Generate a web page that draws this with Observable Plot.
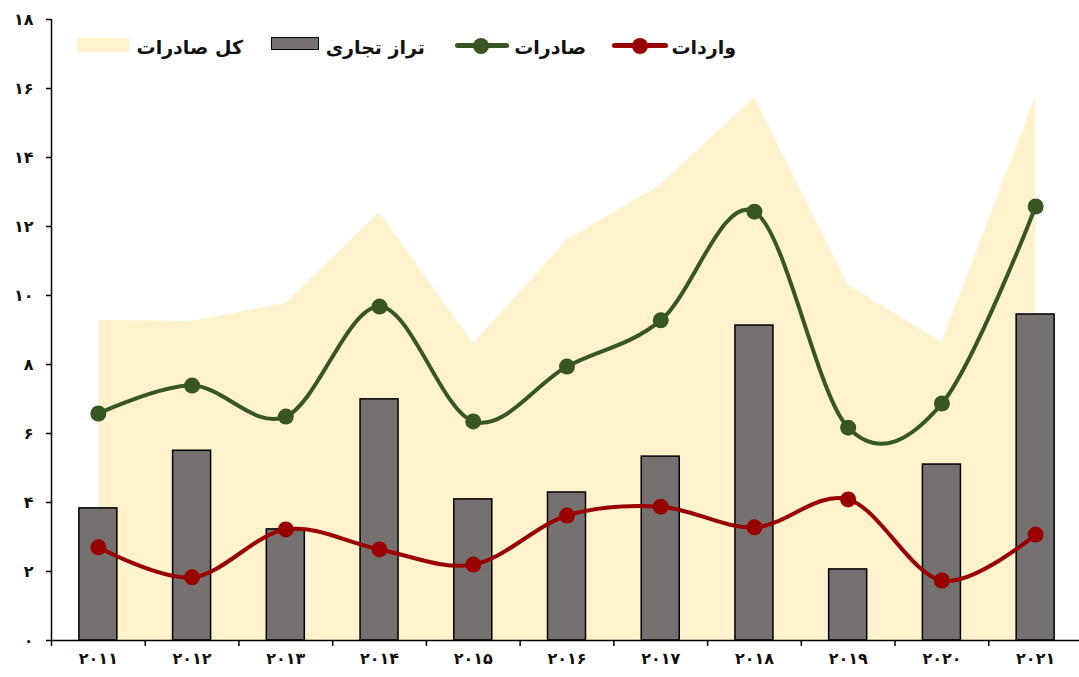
<!DOCTYPE html>
<html lang="fa">
<head>
<meta charset="utf-8">
<script src="https://cdn.jsdelivr.net/npm/d3@7"></script>
<script src="https://cdn.jsdelivr.net/npm/@observablehq/plot@0.6"></script>
<style>
  html, body { margin: 0; padding: 0; background: #fff; }
  #wrap { position: relative; width: 1079px; height: 677px; font-family: "DejaVu Sans", sans-serif; }
  .lg { position: absolute; top: 33px; height: 28px; display: flex; align-items: center; font-weight: bold; font-size: 19px; color: #111; direction: rtl; white-space: nowrap; }
  .sw { position: absolute; }
</style>
</head>
<body>
<div id="wrap"></div>
<script>
const years = [2011, 2012, 2013, 2014, 2015, 2016, 2017, 2018, 2019, 2020, 2021];
const totalExports = [9.28, 9.25, 9.77, 12.4, 8.6, 11.6, 13.2, 15.74, 10.3, 8.64, 15.74];
const tradeBalance = [3.83, 5.5, 3.22, 6.99, 4.09, 4.29, 5.33, 9.13, 2.06, 5.1, 9.45];
const exportsV = [6.58, 7.39, 6.49, 9.68, 6.35, 7.94, 9.28, 12.43, 6.17, 6.87, 12.58];
const importsV = [2.7, 1.83, 3.22, 2.64, 2.2, 3.62, 3.88, 3.28, 4.09, 1.74, 3.07];
const yTicks = [0, 2, 4, 6, 8, 10, 12, 14, 16, 18];
const legendLabels = ["کل صادرات", "تراز تجاری", "صادرات", "واردات"];

const colors = { area: "#FFF2CC", bar: "#767171", exp: "#375623", imp: "#990000" };
const fa = v => String(v).replace(/\d/g, d => "۰۱۲۳۴۵۶۷۸۹"[+d]);

const data = years.map((y, i) => ({
  year: y, total: totalExports[i], balance: tradeBalance[i], exp: exportsV[i], imp: importsV[i]
}));
const bounds = years.map(y => y - 0.5).concat([years[years.length - 1] + 0.5]);
const halfBar = 0.2027;

const chart = Plot.plot({
  width: 1079,
  height: 677,
  marginTop: 19,
  marginBottom: 37,
  marginLeft: 51,
  marginRight: 0,
  style: { fontFamily: "DejaVu Sans, sans-serif", background: "transparent", overflow: "visible" },
  x: { type: "linear", domain: [2010.5, 2021.5], range: [51, 1082] },
  y: { domain: [0, 18] },
  marks: [
    Plot.areaY(data, { x: "year", y: "total", fill: colors.area }),
    Plot.rectY(data, { x1: d => d.year - halfBar, x2: d => d.year + halfBar, y: "balance", fill: colors.bar, stroke: "#000", strokeWidth: 1.5 }),
    Plot.line(data, { x: "year", y: "exp", stroke: colors.exp, strokeWidth: 4, curve: "cardinal" }),
    Plot.dot(data, { x: "year", y: "exp", r: 8, fill: colors.exp }),
    Plot.line(data, { x: "year", y: "imp", stroke: colors.imp, strokeWidth: 4, curve: "cardinal" }),
    Plot.dot(data, { x: "year", y: "imp", r: 8, fill: colors.imp }),
    Plot.ruleX([2010.5], { stroke: "#000", strokeWidth: 1.5 }),
    Plot.ruleY([0], { stroke: "#000", strokeWidth: 1.5 }),
    Plot.axisY({ ticks: yTicks, tickSize: 5, tickPadding: 13, tickFormat: fa, fontSize: 16, fontWeight: "bold", stroke: "#000", strokeWidth: 1.5, label: null, color: "#111" }),
    Plot.axisX({ ticks: bounds, tickSize: 6, tickFormat: () => "", stroke: "#000", strokeWidth: 1.5, label: null }),
    Plot.axisX({ ticks: years, tickSize: 0, tickPadding: 12, tickFormat: fa, fontSize: 16, fontWeight: "bold", label: null, color: "#111" })
  ]
});

const wrap = document.getElementById("wrap");
wrap.appendChild(chart);

// Legend (HTML overlay)
function addText(label, rightPx) {
  const d = document.createElement("div");
  d.className = "lg";
  d.style.right = (1079 - rightPx) + "px";
  d.textContent = label;
  wrap.appendChild(d);
}
function addSwatch(left, width, top, height, style) {
  const s = document.createElement("div");
  s.className = "sw";
  Object.assign(s.style, { left: left + "px", width: width + "px", top: top + "px", height: height + "px" }, style);
  wrap.appendChild(s);
}
addSwatch(77, 52, 38, 14, { background: colors.area });
addText(legendLabels[0], 243);
addSwatch(271, 48, 37, 13, { background: colors.bar, border: "1.5px solid #000", boxSizing: "border-box" });
addText(legendLabels[1], 425);
addSwatch(455, 54, 43, 5, { background: colors.exp, borderRadius: "3px" });
addSwatch(473, 16, 38, 16, { background: colors.exp, borderRadius: "50%" });
addText(legendLabels[2], 586);
addSwatch(612, 56, 43, 5, { background: colors.imp, borderRadius: "3px" });
addSwatch(632, 16, 38, 16, { background: colors.imp, borderRadius: "50%" });
addText(legendLabels[3], 736);
</script>
</body>
</html>
